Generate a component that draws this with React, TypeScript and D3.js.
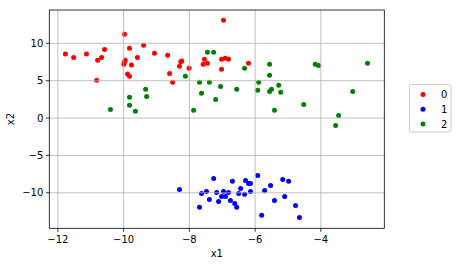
import React from "react";
import * as d3 from "d3";

const redX = [-11.77, -11.52, -11.13, -10.79, -10.67, -10.58, -10.82, -9.97, -9.82, -9.95, -9.98, -9.99, -9.76, -9.88, -9.82, -9.58, -9.39, -9.06, -8.66, -8.6, -8.51, -8.3, -8.26, -8.23, -8.01, -6.96, -7.54, -7.58, -7.45, -7.02, -6.91, -6.81, -7.02, -6.2];
const redY = [8.57, 8.12, 8.57, 7.72, 8.12, 9.19, 5.05, 11.2, 9.33, 7.72, 7.45, 7.2, 7.09, 5.89, 5.58, 8.12, 9.73, 8.66, 8.39, 5.98, 4.78, 6.92, 7.54, 7.63, 6.65, 13.08, 7.86, 7.19, 7.32, 7.86, 7.99, 7.86, 6.52, 7.32];

const blueX = [-8.3, -7.69, -7.63, -7.48, -7.39, -7.26, -7.17, -7.11, -7.02, -6.96, -6.9, -6.81, -6.75, -6.69, -6.62, -6.56, -6.5, -6.44, -6.32, -6.29, -6.2, -6.14, -6.14, -5.92, -5.8, -5.71, -5.53, -5.41, -5.16, -5.1, -4.98, -4.77, -4.65];
const blueY = [-9.55, -11.95, -10.08, -9.81, -10.88, -8.07, -9.95, -11.15, -10.48, -9.81, -10.48, -9.95, -11.02, -8.47, -11.42, -11.95, -10.08, -9.41, -10.21, -8.34, -8.74, -8.74, -9.81, -7.67, -13.02, -9.68, -9.01, -11.02, -8.21, -10.48, -8.47, -11.69, -13.29];

const greenX = [-10.4, -9.82, -9.82, -9.64, -9.33, -9.3, -8.12, -7.87, -7.69, -7.63, -7.45, -7.26, -7.39, -7.2, -7.05, -6.56, -6.32, -5.89, -5.92, -5.56, -5.56, -5.56, -5.5, -5.28, -5.22, -5.41, -4.52, -4.17, -4.07, -2.58, -3.03, -3.46, -3.55];
const greenY = [1.16, 2.77, 1.7, 0.9, 3.84, 2.9, 5.58, 1.03, 4.78, 3.31, 8.79, 8.79, 4.78, 2.5, 4.24, 3.84, 6.65, 4.78, 3.71, 7.19, 5.72, 3.57, 3.84, 4.38, 3.44, 1.03, 1.83, 7.19, 7.05, 7.32, 3.57, 0.36, -0.98];

const xTicks = [-12, -10, -8, -6, -4];
const yTicks = [-10, -5, 0, 5, 10];
const labels = ["0", "1", "2"];

const W = 458;
const H = 266;
const L = 49.3, R = 384.3, T = 10, B = 228.3;

export default function App() {
  const x = d3.scaleLinear().domain([-12.26, -2.07]).range([L, R]);
  const y = d3.scaleLinear().domain([-14.75, 14.46]).range([B, T]);
  const series = [
    { xs: redX, ys: redY, color: "#ff0000" },
    { xs: blueX, ys: blueY, color: "#0000ff" },
    { xs: greenX, ys: greenY, color: "#008000" },
  ];
  const font = "DejaVu Sans, sans-serif";
  const fmt = (v: number) => (v < 0 ? "\u2212" + Math.abs(v) : String(v));
  return (
    <svg width={W} height={H} style={{ position: "absolute", left: 0, top: 0, background: "#fff" }} fontFamily={font}>
      <rect x={0} y={0} width={W} height={H} fill="#fff" />
      {series.map((s, si) =>
        s.xs.map((v, i) => (
          <circle key={si + "-" + i} cx={x(v)} cy={y(s.ys[i])} r={2.5} fill={s.color} />
        ))
      )}
      {xTicks.map((t) => (
        <line key={"gx" + t} x1={x(t)} x2={x(t)} y1={T} y2={B} stroke="#b0b0b0" strokeWidth={0.8} />
      ))}
      {yTicks.map((t) => (
        <line key={"gy" + t} x1={L} x2={R} y1={y(t)} y2={y(t)} stroke="#b0b0b0" strokeWidth={0.8} />
      ))}
      <rect x={L} y={T} width={R - L} height={B - T} fill="none" stroke="#000" strokeWidth={0.8} />
      {xTicks.map((t) => (
        <g key={"tx" + t}>
          <line x1={x(t)} x2={x(t)} y1={B} y2={B + 3.5} stroke="#000" strokeWidth={0.8} />
          <text x={x(t)} y={B + 14.5} fontSize={10} textAnchor="middle" fill="#000">{fmt(t)}</text>
        </g>
      ))}
      {yTicks.map((t) => (
        <g key={"ty" + t}>
          <line x1={L - 3.5} x2={L} y1={y(t)} y2={y(t)} stroke="#000" strokeWidth={0.8} />
          <text x={L - 6} y={y(t) + 3.5} fontSize={10} textAnchor="end" fill="#000">{fmt(t)}</text>
        </g>
      ))}
      <text x={(L + R) / 2} y={257} fontSize={10} textAnchor="middle" fill="#000">x1</text>
      <text transform={`translate(14, ${(T + B) / 2}) rotate(-90)`} fontSize={10} textAnchor="middle" fill="#000">x2</text>
      <rect x={409.5} y={84.5} width={41.5} height={47.5} rx={2} fill="#fff" fillOpacity={0.8} stroke="#cccccc" strokeWidth={1} />
      {labels.map((lab, i) => (
        <g key={"lg" + lab}>
          <circle cx={423} cy={94.5 + i * 14.8} r={2.5} fill={series[i].color} />
          <text x={441} y={94.5 + i * 14.8 + 3.6} fontSize={10} fill="#000">{lab}</text>
        </g>
      ))}
    </svg>
  );
}
